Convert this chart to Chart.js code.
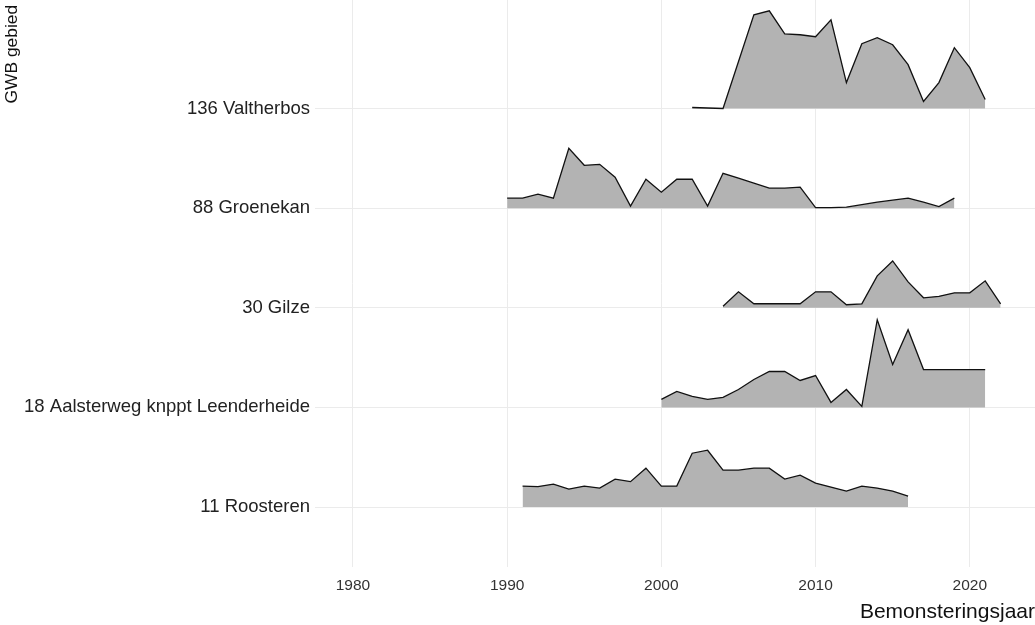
<!DOCTYPE html>
<html>
<head>
<meta charset="utf-8">
<script src="https://cdn.jsdelivr.net/npm/chart.js@4/dist/chart.umd.min.js"></script>
<style>
  html, body { margin: 0; padding: 0; background: #fff; }
  #wrap { width: 1035px; height: 625px; }
</style>
</head>
<body>
<div id="wrap"><canvas id="ridgeChart"></canvas></div>
<script>
// sites, bottom to top
const sites = ['11 Roosteren', '18 Aalsterweg knppt Leenderheide', '30 Gilze', '88 Groenekan', '136 Valtherbos'];
const xTicks = [1980, 1990, 2000, 2010, 2020];

// ridge heights (100 = one row)
const roosterenYears = [1991, 1992, 1993, 1994, 1995, 1996, 1997, 1998, 1999, 2000, 2001, 2002, 2003, 2004, 2005, 2006, 2007, 2008, 2009, 2010, 2011, 2012, 2013, 2014, 2015, 2016];
const roosterenValues = [21, 20.5, 23, 18, 21, 19, 28, 25.5, 39, 21, 21, 54, 57, 37, 37, 39, 39, 28, 32, 24, 20, 16, 21, 19, 16, 11];

const aalsterwegYears = [2000, 2001, 2002, 2003, 2004, 2005, 2006, 2007, 2008, 2009, 2010, 2011, 2012, 2013, 2014, 2015, 2016, 2017, 2018, 2019, 2020, 2021];
const aalsterwegValues = [8, 16, 11, 8, 10, 18, 28, 36, 36, 27, 32, 5, 18, 1, 88, 43, 78, 38, 38, 38, 38, 38];

const gilzeYears = [2004, 2005, 2006, 2007, 2008, 2009, 2010, 2011, 2012, 2013, 2014, 2015, 2016, 2017, 2018, 2019, 2020, 2021, 2022];
const gilzeValues = [1.5, 16, 4, 4, 4, 4, 16, 16, 3, 4, 32, 47, 26, 10, 11.5, 15, 15, 27, 4];

const groenekanYears = [1990, 1991, 1992, 1993, 1994, 1995, 1996, 1997, 1998, 1999, 2000, 2001, 2002, 2003, 2004, 2005, 2006, 2007, 2008, 2009, 2010, 2011, 2012, 2013, 2014, 2015, 2016, 2017, 2018, 2019];
const groenekanValues = [10, 10, 14, 10, 60, 43, 44, 31, 2, 29, 16, 29, 29, 2, 35, 30, 25, 20, 20, 21, 0.5, 0.5, 1, 3.5, 6, 8, 10, 6, 1.5, 10];

const valtherbosYears = [2002, 2003, 2004, 2006, 2007, 2008, 2009, 2010, 2011, 2012, 2013, 2014, 2015, 2016, 2017, 2018, 2019, 2020, 2021];
const valtherbosValues = [1, 0.5, 0, 94, 98, 75, 74, 72, 89, 26, 65, 71, 64, 44, 7, 26, 61, 41, 9];

const ridges = [
  [roosterenYears, roosterenValues],
  [aalsterwegYears, aalsterwegValues],
  [gilzeYears, gilzeValues],
  [groenekanYears, groenekanValues],
  [valtherbosYears, valtherbosValues]
];

const rowStep = 100;
const FONT = "'Liberation Sans', Arial, sans-serif";

const datasets = ridges.map(([years, vals], i) => ({
  label: sites[i],
  data: years.map((yr, k) => ({ x: yr, y: i * rowStep + vals[k] })),
  fill: { value: i * rowStep },
  backgroundColor: '#b3b3b3',
  borderColor: '#111',
  borderWidth: 1.3,
  pointRadius: 0,
  tension: 0
}));

const ctx = document.getElementById('ridgeChart').getContext('2d');
new Chart(ctx, {
  type: 'line',
  data: { datasets },
  options: {
    responsive: true,
    maintainAspectRatio: false,
    animation: false,
    layout: { padding: 0 },
    plugins: { legend: { display: false }, tooltip: { enabled: false } },
    scales: {
      x: {
        type: 'linear',
        min: 1977.54,
        max: 2024.23,
        afterBuildTicks: axis => { axis.ticks = xTicks.map(v => ({ value: v })); },
        afterFit: axis => {
          axis.height = 58;
          axis.paddingLeft = 0; axis.paddingRight = 0;
        },
        grid: { color: '#ebebeb', lineWidth: 1, drawTicks: false },
        border: { display: false },
        ticks: {
          color: '#333', font: { family: FONT, size: 15.5 }, padding: 9, maxRotation: 0,
          callback: v => String(v)
        },
        title: {
          display: true, text: 'Bemonsteringsjaar', align: 'end',
          color: '#111', font: { family: FONT, size: 21 }, padding: { top: 0, bottom: 0 }
        }
      },
      y: {
        type: 'linear',
        min: -60.2,
        max: 508.9,
        afterBuildTicks: axis => { axis.ticks = sites.map((s, i) => ({ value: i * rowStep })); },
        afterFit: axis => {
          axis.width = 315;
          axis.paddingTop = 0; axis.paddingBottom = 0;
        },
        grid: { color: '#ebebeb', lineWidth: 1, drawTicks: false },
        border: { display: false },
        ticks: {
          color: '#222', font: { family: FONT, size: 18.5 }, padding: 5,
          callback: v => sites[Math.round(v / rowStep)]
        },
        title: {
          // trailing space keeps the title a few px below the top edge
          display: true, text: 'GWB gebied ', align: 'end',
          color: '#111', font: { family: FONT, size: 17.4 }, padding: { top: 2, bottom: 0 }
        }
      }
    }
  }
});
</script>
</body>
</html>
